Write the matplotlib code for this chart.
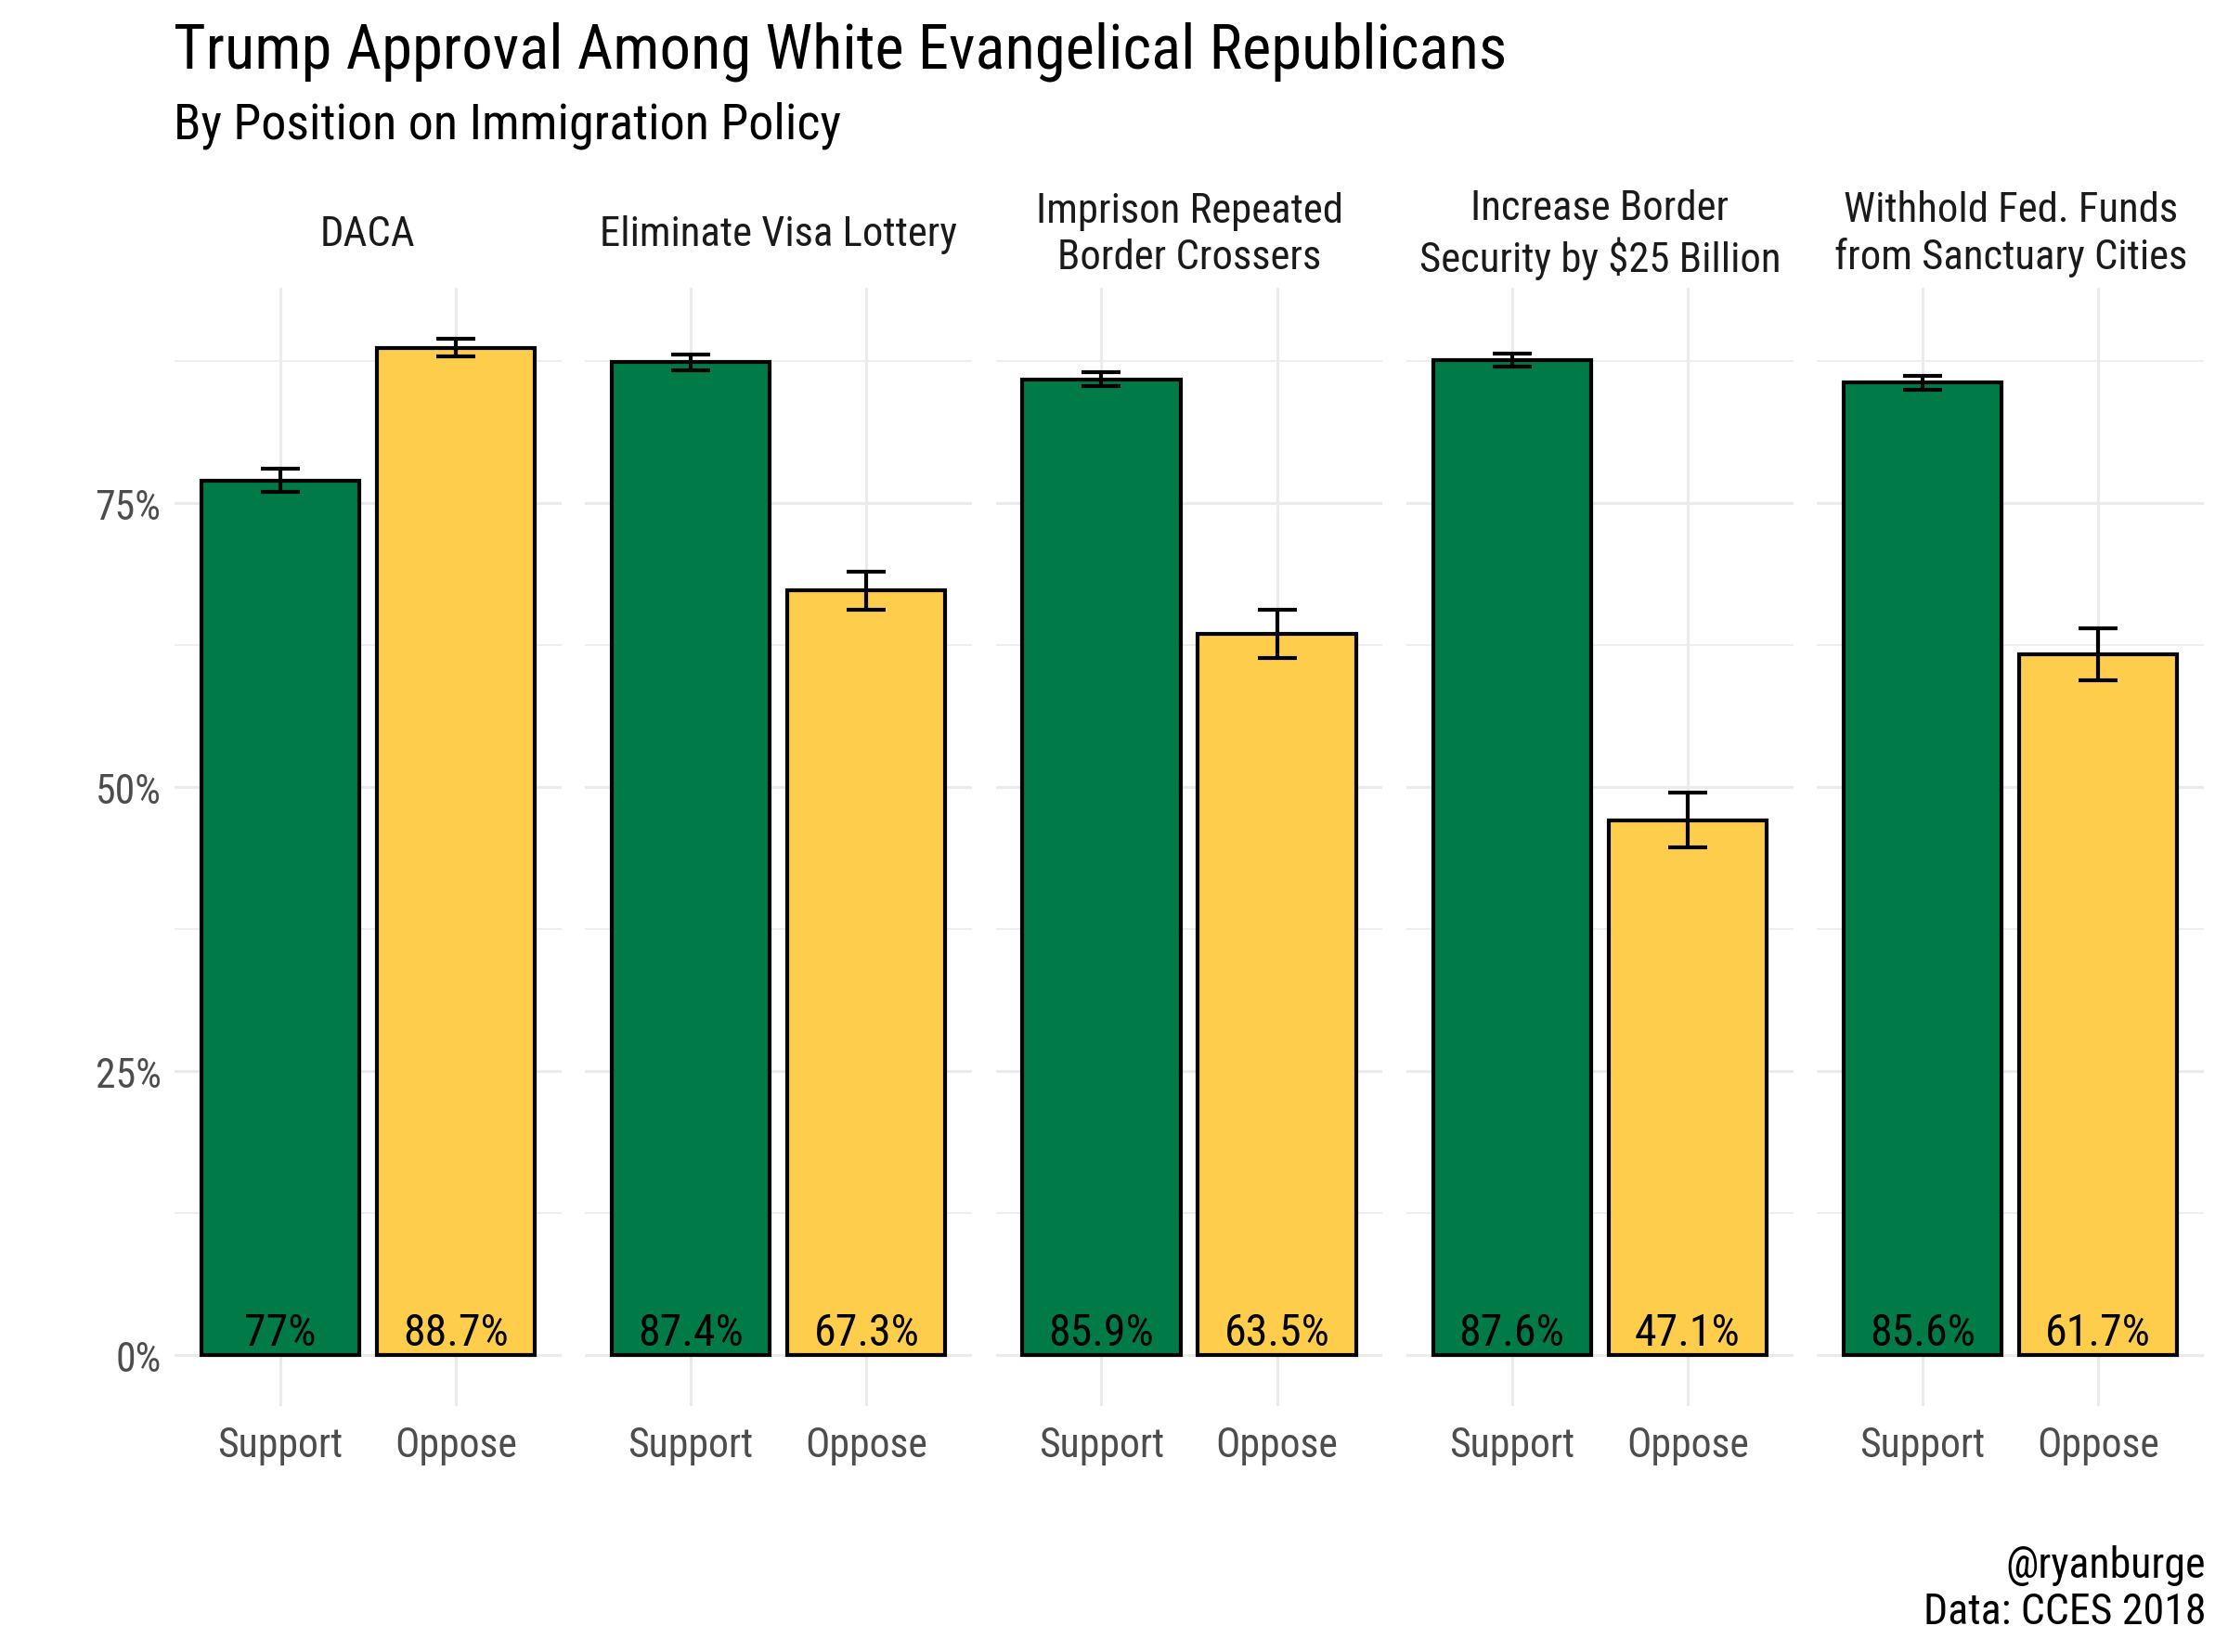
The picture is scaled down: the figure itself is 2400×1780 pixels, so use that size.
#!/usr/bin/env python3
import numpy as np
import matplotlib
matplotlib.use("Agg")
import matplotlib.pyplot as plt

########## DATOS ##########
paneles = ["DACA", "Eliminate Visa Lottery", "Imprison Repeated\nBorder Crossers",
           "Increase Border\nSecurity by $25 Billion",
           "Withhold Fed. Funds\nfrom Sanctuary Cities"]
posiciones = ["Support", "Oppose"]
apoyo = [77.0, 87.4, 85.9, 87.6, 85.6]
oposicion = [88.7, 67.3, 63.5, 47.1, 61.7]
err_apoyo = [1.0, 0.7, 0.6, 0.6, 0.6]
err_oposicion = [0.8, 1.7, 2.1, 2.4, 2.3]
etiquetas_y = ["0%", "25%", "50%", "75%"]

verde = "#007A47"
amarillo = "#FFCD4C"

plt.rcParams['font.family'] = ['Roboto Condensed', 'Liberation Sans Narrow', 'DejaVu Sans']

fig = plt.figure(figsize=(16, 11.873), dpi=150)

x0, ancho, paso = 0.0784, 0.1735, 0.1843
abajo, alto = 0.1486, 0.8256 - 0.1486

for i, nombre in enumerate(paneles):
    ax = fig.add_axes([x0 + i * paso, abajo, ancho, alto])
    vals = [apoyo[i], oposicion[i]]
    errs = [err_apoyo[i], err_oposicion[i]]
    xs = np.array([1, 2])
    ax.bar(xs, vals, width=0.9, color=[verde, amarillo], edgecolor="black",
           linewidth=2.0, zorder=3)
    ax.errorbar(xs, vals, yerr=errs, fmt="none", ecolor="black", elinewidth=2.0,
                capsize=10, capthick=2.0, zorder=4)
    for xv, v in zip(xs, vals):
        ax.text(xv, 2.0, f"{v:g}%", ha="center", va="center", fontsize=23,
                color="black", zorder=5)
    ax.set_xlim(0.4, 2.6)
    ax.set_ylim(-4.5, 94)
    ax.set_xticks(xs)
    ax.set_xticklabels(posiciones)
    ax.set_yticks([0, 25, 50, 75])
    ax.set_yticks([12.5, 37.5, 62.5, 87.5], minor=True)
    if i == 0:
        ax.set_yticklabels(etiquetas_y)
    else:
        ax.set_yticklabels([])
    ax.tick_params(axis="both", length=0, labelsize=21, labelcolor="#4D4D4D", pad=7)
    ax.tick_params(axis="x", pad=10)
    ax.tick_params(axis="y", which="minor", length=0)
    ax.grid(True, which="major", color="#EBEBEB", linewidth=1.5, zorder=0)
    ax.grid(True, which="minor", axis="y", color="#EBEBEB", linewidth=0.8, zorder=0)
    for s in ax.spines.values():
        s.set_visible(False)
    # titulo del panel, centrado en la franja
    ax.text(0.5, 1.048, nombre, transform=ax.transAxes, fontsize=21.5,
            color="#1A1A1A", ha="center", va="center", linespacing=1.25)

fig.text(0.0778, 0.987, "Trump Approval Among White Evangelical Republicans",
         fontsize=32, ha="left", va="top")
fig.text(0.0778, 0.9385, "By Position on Immigration Policy",
         fontsize=26, ha="left", va="top")
fig.text(0.990, 0.0126, "@ryanburge\nData: CCES 2018", fontsize=22,
         ha="right", va="bottom", linespacing=1.15)

fig.savefig("out.png", dpi=150)
